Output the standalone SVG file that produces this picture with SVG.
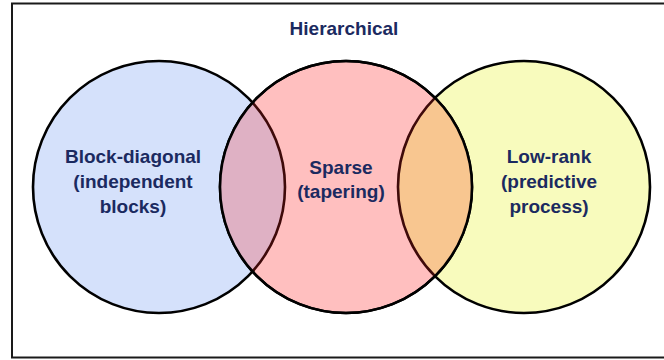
<svg xmlns="http://www.w3.org/2000/svg" width="664" height="360" viewBox="0 0 664 360">
  <style>
    .lbl { font-family: "Liberation Sans", Arial, sans-serif; font-weight: bold; font-size: 19px; fill: #1b2a60; text-anchor: middle; }
    .ring { stroke: #000; stroke-width: 2.6; }
    .frame { fill: #fff; stroke: #1a1a1a; stroke-width: 2; }
  </style>
  <rect class="frame" x="12" y="3.5" width="700" height="354"/>
  <text class="lbl" x="344" y="35">Hierarchical</text>

  <g id="block-diagonal">
    <circle class="ring" cx="159" cy="187" r="126" fill="#d5e1fb"/>
  </g>
  <g id="low-rank">
    <circle class="ring" cx="524" cy="187" r="126" fill="#f8fbbd"/>
  </g>
  <g id="sparse">
    <circle class="ring" cx="346" cy="187" r="126" fill="#ffbfbf"/>
  </g>

  <g id="overlaps">
    <path d="M252.5 102.54 A126 126 0 0 1 252.5 271.46 A126 126 0 0 1 252.5 102.54 Z" fill="#dfb1c4"/>
    <path d="M435 97.81 A126 126 0 0 1 435 276.19 A126 126 0 0 1 435 97.81 Z" fill="#f8c690"/>
    <path d="M252.5 102.54 A126 126 0 0 1 252.5 271.46" fill="none" stroke="#3f0a0a" stroke-width="2.6"/>
    <path d="M435 276.19 A126 126 0 0 1 435 97.81" fill="none" stroke="#3f0a0a" stroke-width="2.6"/>
    <circle class="ring" cx="346" cy="187" r="126" fill="none"/>
  </g>

  <g id="connectors"></g>

  <g id="labels">
    <text class="lbl" x="133" y="163">Block-diagonal</text>
    <text class="lbl" x="133" y="188">(independent</text>
    <text class="lbl" x="133" y="213">blocks)</text>
    <text class="lbl" x="341" y="174">Sparse</text>
    <text class="lbl" x="341" y="198">(tapering)</text>
    <text class="lbl" x="549" y="163">Low-rank</text>
    <text class="lbl" x="549" y="188">(predictive</text>
    <text class="lbl" x="549" y="213">process)</text>
  </g>
</svg>
